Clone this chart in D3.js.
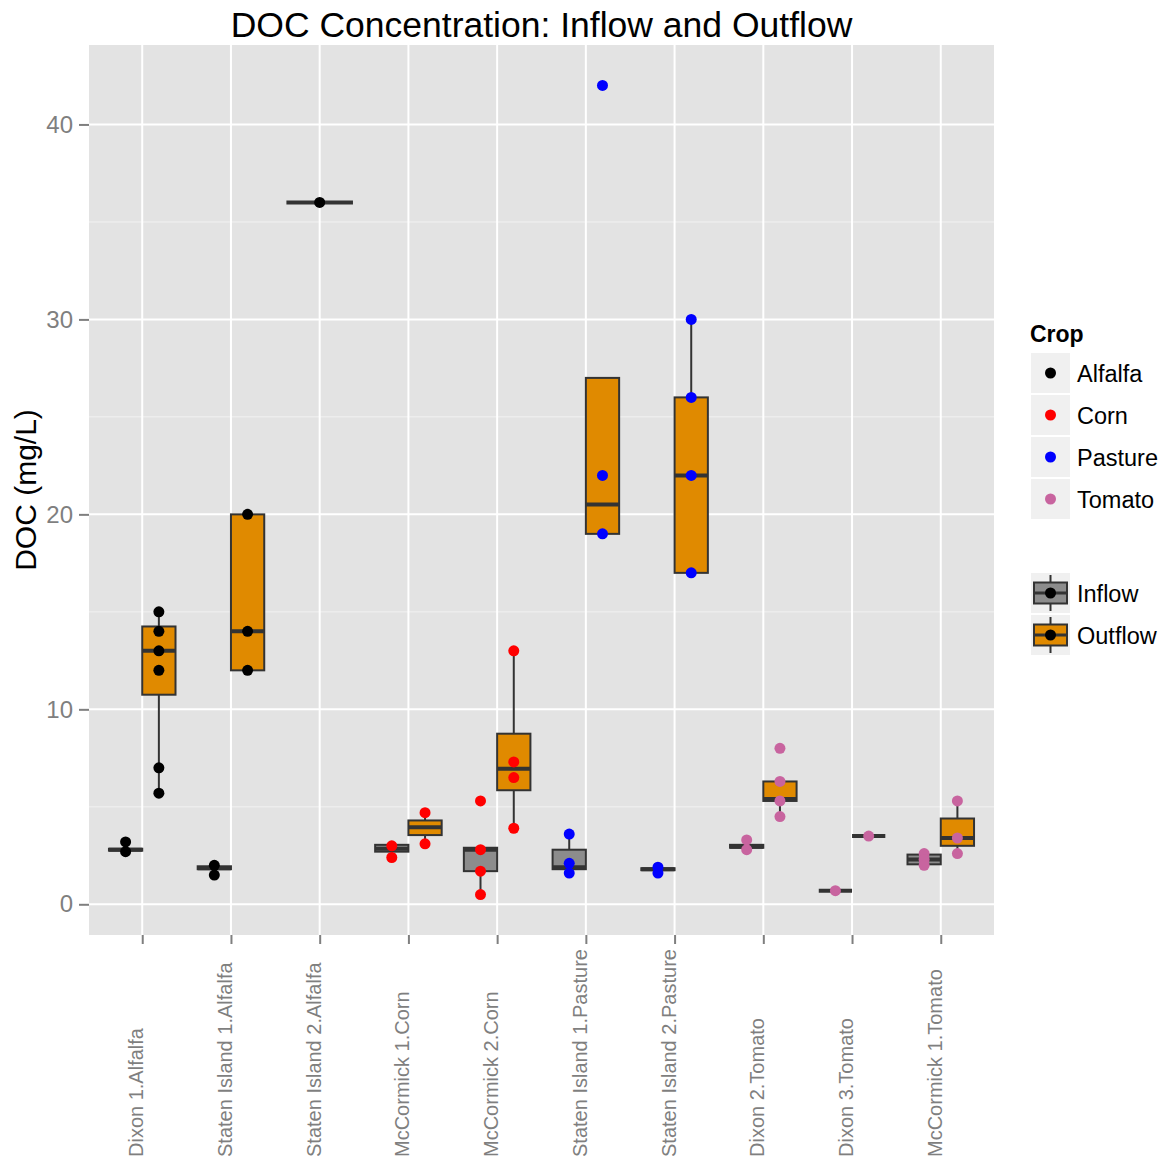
<!DOCTYPE html>
<html>
<head>
<meta charset="utf-8">
<script src="https://cdn.jsdelivr.net/npm/d3@7/dist/d3.min.js"></script>
<style>
  html, body { margin: 0; padding: 0; background: #ffffff; }
  svg { display: block; font-family: "Liberation Sans", Arial, Helvetica, sans-serif; }
</style>
</head>
<body>
<svg id="chart" width="1165" height="1162"></svg>
<script>
// Sampling sites (site + crop) along the x axis
const sites = [
  "Dixon 1.Alfalfa", "Staten Island 1.Alfalfa", "Staten Island 2.Alfalfa",
  "McCormick 1.Corn", "McCormick 2.Corn", "Staten Island 1.Pasture",
  "Staten Island 2.Pasture", "Dixon 2.Tomato", "Dixon 3.Tomato", "McCormick 1.Tomato"
];
const siteCrop = ["Alfalfa", "Alfalfa", "Alfalfa", "Corn", "Corn", "Pasture",
                  "Pasture", "Tomato", "Tomato", "Tomato"];

// Box statistics per site: [lower whisker, Q1, median, Q3, upper whisker]
const inflowStats = [
  [2.7, 2.75, 2.8, 2.85, 3.2],
  [1.5, 1.8, 1.85, 1.95, 2.0],
  null,
  [2.4, 2.7, 2.85, 3.05, 3.05],
  [0.5, 1.7, 2.8, 2.9, 2.9],
  [1.6, 1.8, 1.9, 2.8, 3.6],
  [1.6, 1.75, 1.8, 1.85, 1.9],
  [2.8, 2.9, 2.95, 3.05, 3.3],
  [0.7, 0.7, 0.7, 0.7, 0.7],
  [2.0, 2.05, 2.3, 2.55, 2.6]
];
const outflowStats = [
  [5.7, 10.75, 13.0, 14.25, 15.0],
  [12.0, 12.0, 14.0, 20.0, 20.0],
  [36.0, 36.0, 36.0, 36.0, 36.0],
  [3.1, 3.55, 3.95, 4.3, 4.7],
  [3.9, 5.85, 6.95, 8.75, 13.0],
  [19.0, 19.0, 20.5, 27.0, 27.0],
  [17.0, 17.0, 22.0, 26.0, 30.0],
  [4.5, 5.3, 5.4, 6.3, 6.3],
  [3.5, 3.5, 3.5, 3.5, 3.5],
  [2.6, 3.0, 3.4, 4.4, 5.3]
];

// Individual DOC measurements (mg/L)
const inflowPoints = [
  [3.2, 2.7],
  [2.0, 1.5],
  [],
  [3.0, 2.4],
  [5.3, 2.8, 1.7, 0.5],
  [3.6, 2.1, 1.6],
  [1.9, 1.6],
  [3.3, 2.8],
  [0.7],
  [2.6, 2.3, 2.0]
];
const outflowPoints = [
  [15.0, 14.0, 13.0, 12.0, 7.0, 5.7],
  [20.0, 14.0, 12.0],
  [36.0],
  [4.7, 3.1],
  [13.0, 7.3, 6.5, 3.9],
  [42.0, 22.0, 19.0],
  [30.0, 26.0, 22.0, 17.0],
  [8.0, 6.3, 5.3, 4.5],
  [3.5],
  [5.3, 3.4, 2.6]
];

const crops = ["Alfalfa", "Corn", "Pasture", "Tomato"];
const cropColors = ["#000000", "#ff0000", "#0000ff", "#c8649f"];
const flows = ["Inflow", "Outflow"];
const flowColors = ["#8c8c8c", "#e08a00"];
const yTicks = [0, 10, 20, 30, 40];
const yMinorTicks = [5, 15, 25, 35];

const svg = d3.select("#chart");
const panel = { left: 89, right: 994, top: 45, bottom: 935 };

// discrete x positions with 0.6 units of expansion on each side
const xc = d3.scalePoint().domain(sites)
  .range([panel.left, panel.right]).padding(0.6);
const step = xc.step();
const dodgeWidth = 0.75 * step;

const y = d3.scaleLinear().domain([-1.575, 44.075]).range([panel.bottom, panel.top]);
const cropColor = d3.scaleOrdinal().domain(crops).range(cropColors);
const flowColor = d3.scaleOrdinal().domain(flows).range(flowColors);

// Panel background and grid
svg.append("rect")
  .attr("x", panel.left).attr("y", panel.top)
  .attr("width", panel.right - panel.left).attr("height", panel.bottom - panel.top)
  .attr("fill", "#e3e3e3");

const grid = svg.append("g");
grid.selectAll(".minor").data(yMinorTicks).join("line")
  .attr("x1", panel.left).attr("x2", panel.right)
  .attr("y1", d => y(d)).attr("y2", d => y(d))
  .attr("stroke", "#f2f2f2").attr("stroke-width", 1);
grid.selectAll(".majorY").data(yTicks).join("line")
  .attr("x1", panel.left).attr("x2", panel.right)
  .attr("y1", d => y(d)).attr("y2", d => y(d))
  .attr("stroke", "#ffffff").attr("stroke-width", 2);
grid.selectAll(".majorX").data(sites).join("line")
  .attr("x1", d => xc(d)).attr("x2", d => xc(d))
  .attr("y1", panel.top).attr("y2", panel.bottom)
  .attr("stroke", "#ffffff").attr("stroke-width", 2);

// Build the box and point records, dodging inflow/outflow within each site
const boxes = [];
const points = [];
sites.forEach((s, i) => {
  const stats = [inflowStats[i], outflowStats[i]];
  const pts = [inflowPoints[i], outflowPoints[i]];
  const nGroups = stats.filter(d => d !== null).length;
  let slot = 0;
  stats.forEach((st, g) => {
    if (!st) return;
    const w = dodgeWidth / nGroups;
    const cx = xc(s) - dodgeWidth / 2 + w * (slot + 0.5);
    slot++;
    boxes.push({ site: s, flow: flows[g], cx, w, st });
    pts[g].forEach(v => points.push({ cx, v, crop: siteCrop[i] }));
  });
});

const boxStroke = "#333333";
const bg = svg.append("g");
boxes.forEach(b => {
  const [lo, q1, med, q3, hi] = b.st;
  const gb = bg.append("g");
  if (hi > q3) gb.append("line")
    .attr("x1", b.cx).attr("x2", b.cx).attr("y1", y(q3)).attr("y2", y(hi))
    .attr("stroke", boxStroke).attr("stroke-width", 2);
  if (lo < q1) gb.append("line")
    .attr("x1", b.cx).attr("x2", b.cx).attr("y1", y(q1)).attr("y2", y(lo))
    .attr("stroke", boxStroke).attr("stroke-width", 2);
  gb.append("rect")
    .attr("x", b.cx - b.w / 2).attr("width", b.w)
    .attr("y", y(q3)).attr("height", Math.max(0, y(q1) - y(q3)))
    .attr("fill", flowColor(b.flow))
    .attr("stroke", boxStroke).attr("stroke-width", 2);
  gb.append("line")
    .attr("x1", b.cx - b.w / 2).attr("x2", b.cx + b.w / 2)
    .attr("y1", y(med)).attr("y2", y(med))
    .attr("stroke", boxStroke).attr("stroke-width", 4);
});

svg.append("g").selectAll("circle").data(points).join("circle")
  .attr("cx", d => d.cx).attr("cy", d => y(d.v)).attr("r", 5.5)
  .attr("fill", d => cropColor(d.crop));

// Axes
const axisGrey = "#7f7f7f";
const yAxis = svg.append("g")
  .attr("transform", `translate(${panel.left},0)`)
  .call(d3.axisLeft(y).tickValues(yTicks).tickSize(10).tickPadding(6));
yAxis.select(".domain").remove();
yAxis.selectAll(".tick line").attr("stroke", axisGrey).attr("stroke-width", 2);
yAxis.selectAll(".tick text").attr("fill", axisGrey)
  .attr("font-size", 24).attr("font-family", "Liberation Sans, Arial, sans-serif");

const xAxis = svg.append("g")
  .attr("transform", `translate(0,${panel.bottom})`)
  .call(d3.axisBottom(xc).tickSize(9).tickFormat(""));
xAxis.select(".domain").remove();
xAxis.selectAll(".tick line").attr("stroke", axisGrey).attr("stroke-width", 2);

svg.append("g").selectAll("text").data(sites).join("text")
  .attr("transform", d => `translate(${xc(d) + 1},1157) rotate(-90)`)
  .attr("text-anchor", "start")
  .attr("fill", axisGrey).attr("font-size", 20)
  .text(d => d);

// Titles
svg.append("text")
  .attr("x", (panel.left + panel.right) / 2).attr("y", 37)
  .attr("text-anchor", "middle").attr("font-size", 35.5).attr("fill", "#000")
  .text("DOC Concentration: Inflow and Outflow");

svg.append("text")
  .attr("transform", `translate(36,${(panel.top + panel.bottom) / 2}) rotate(-90)`)
  .attr("text-anchor", "middle").attr("font-size", 30).attr("fill", "#000")
  .text("DOC (mg/L)");

// Legend: crop colours
const lgX = 1030, keyW = 41, keyH = 42;
const lg = svg.append("g");
lg.append("text").attr("x", lgX).attr("y", 342)
  .attr("font-size", 23).attr("font-weight", "bold").text("Crop");
crops.forEach((c, i) => {
  const ky = 352 + i * keyH;
  lg.append("rect").attr("x", lgX).attr("y", ky).attr("width", keyW).attr("height", keyH)
    .attr("fill", "#f0f0f0").attr("stroke", "#ffffff").attr("stroke-width", 2);
  lg.append("circle").attr("cx", lgX + keyW / 2).attr("cy", ky + keyH / 2).attr("r", 5.5)
    .attr("fill", cropColor(c));
  lg.append("text").attr("x", 1077).attr("y", ky + keyH / 2 + 8.5)
    .attr("font-size", 23.5).text(c);
});

// Legend: inflow / outflow
flows.forEach((f, i) => {
  const ky = 572 + i * keyH;
  const cx = lgX + keyW / 2, cy = ky + keyH / 2;
  lg.append("rect").attr("x", lgX).attr("y", ky).attr("width", keyW).attr("height", keyH)
    .attr("fill", "#f0f0f0").attr("stroke", "#ffffff").attr("stroke-width", 2);
  lg.append("line").attr("x1", cx).attr("x2", cx).attr("y1", ky + 3).attr("y2", ky + keyH - 3)
    .attr("stroke", boxStroke).attr("stroke-width", 2);
  lg.append("rect").attr("x", lgX + 4).attr("y", ky + 10.5)
    .attr("width", keyW - 8).attr("height", keyH - 21)
    .attr("fill", flowColor(f)).attr("stroke", boxStroke).attr("stroke-width", 2);
  lg.append("line").attr("x1", lgX + 4).attr("x2", lgX + keyW - 4).attr("y1", cy).attr("y2", cy)
    .attr("stroke", boxStroke).attr("stroke-width", 3);
  lg.append("circle").attr("cx", cx).attr("cy", cy).attr("r", 5.5).attr("fill", "#000");
  lg.append("text").attr("x", 1077).attr("y", cy + 8.5).attr("font-size", 23.5).text(f);
});
</script>
</body>
</html>
